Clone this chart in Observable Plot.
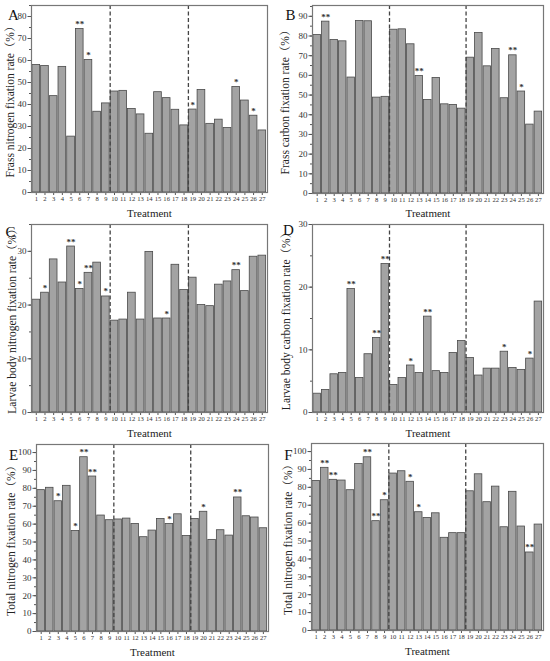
<!DOCTYPE html>
<html>
<head>
<meta charset="utf-8">
<script src="https://cdn.jsdelivr.net/npm/d3@7"></script>
<script src="https://cdn.jsdelivr.net/npm/@observablehq/plot@0.6"></script>
<style>
  html, body { margin: 0; padding: 0; background: #fff; }
  #wrap { position: relative; width: 550px; height: 661px; overflow: hidden; }
  .panel { position: absolute; }
</style>
</head>
<body>
<div id="wrap"></div>
<script>
const treatments = [1,2,3,4,5,6,7,8,9,10,11,12,13,14,15,16,17,18,19,20,21,22,23,24,25,26,27];
const dividers = [9.5, 18.5];

const frassN = [58.0,57.5,43.8,57.1,25.4,74.3,60.2,36.7,40.5,45.9,46.2,38.0,35.5,26.7,45.6,42.9,37.6,30.5,37.7,46.6,31.2,33.1,29.3,48.0,41.8,34.9,28.2];
const frassNStars = {6:"**",7:"*",19:"*",24:"*",26:"*"};

const frassC = [80.5,87.3,78.0,77.3,58.9,87.6,87.5,48.7,49.1,83.2,83.4,75.8,59.7,47.5,58.7,45.3,45.0,43.1,69.0,81.5,64.6,73.4,48.4,70.2,51.8,35.0,41.6];
const frassCStars = {2:"**",13:"**",24:"**",25:"*"};

const larvaeN = [21.0,22.3,28.5,24.2,30.9,23.0,26.0,27.9,21.6,17.1,17.3,22.3,17.3,29.9,17.5,17.5,27.5,22.8,25.1,20.0,19.8,23.8,24.4,26.5,22.6,29.0,29.2];
const larvaeNStars = {2:"*",5:"**",6:"*",7:"**",9:"*",16:"*",24:"**"};

const larvaeC = [3.0,3.6,6.1,6.3,19.7,5.5,9.3,11.9,23.7,4.4,5.5,7.5,6.3,15.3,6.6,6.3,9.5,11.4,8.7,5.9,7.0,7.0,9.7,7.1,6.8,8.6,17.7];
const larvaeCStars = {5:"**",8:"**",9:"**",12:"*",14:"**",23:"*",26:"*"};

const totalN = [79.0,80.3,72.8,81.4,56.2,97.4,86.6,64.8,62.2,62.6,63.1,60.1,52.7,56.4,62.9,60.1,65.5,53.4,62.9,66.9,51.2,56.6,53.6,74.9,64.4,63.7,57.7];
const totalNStars = {3:"*",5:"*",6:"**",7:"**",16:"*",20:"*",24:"**"};

const totalF = [83.6,90.9,84.2,83.8,78.4,93.1,96.8,61.1,72.8,87.7,89.0,83.1,66.1,62.9,65.5,51.8,54.4,54.4,77.8,87.3,71.7,80.4,57.7,77.5,58.1,43.6,59.2];
const totalFStars = {2:"**",3:"**",7:"**",8:"**",9:"*",12:"*",13:"*",26:"**"};

const ticks0to80 = [0,10,20,30,40,50,60,70,80];
const ticks0to90 = [0,10,20,30,40,50,60,70,80,90];
const ticks0to30 = [0,10,20,30];
const ticks0to100 = [0,10,20,30,40,50,60,70,80,90,100];

const panels = [
  {letter:"A", values:frassN, stars:frassNStars, ylabel:"Frass nitrogen fixation rate（%）", ymax:85, ticks:ticks0to80, minorStep:5,
   left:0, top:0, w:275, h:220, ml:31, mr:8, mt:5, mb:28, tOff:21, yOff:21, lx:-18, ly:10},
  {letter:"B", values:frassC, stars:frassCStars, ylabel:"Frass carbon fixation rate（%）", ymax:95.5, ticks:ticks0to90, minorStep:5,
   left:275, top:0, w:275, h:220, ml:37, mr:7, mt:5, mb:27, tOff:20, yOff:27, lx:-22, ly:10},
  {letter:"C", values:larvaeN, stars:larvaeNStars, ylabel:"Larvae body nitrogen fixation rate（%）", ymax:35, ticks:ticks0to30, minorStep:5,
   left:0, top:220, w:275, h:220, ml:31, mr:8, mt:4, mb:28, tOff:21, yOff:19, lx:-21, ly:8},
  {letter:"D", values:larvaeC, stars:larvaeCStars, ylabel:"Larvae body carbon fixation rate（%）", ymax:30, ticks:ticks0to30, minorStep:5,
   left:275, top:220, w:275, h:220, ml:37, mr:7, mt:4, mb:28, tOff:21, yOff:26, lx:-24, ly:6},
  {letter:"E", values:totalN, stars:totalNStars, ylabel:"Total nitrogen fixation rate（%）", ymax:104.5, ticks:ticks0to100, minorStep:5,
   left:0, top:440, w:275, h:221, ml:36, mr:7, mt:4, mb:30, tOff:21, yOff:25, lx:-23, ly:11},
  {letter:"F", values:totalF, stars:totalFStars, ylabel:"Total nitrogen fixation rate（%）", ymax:104.5, ticks:ticks0to100, minorStep:5,
   left:275, top:440, w:275, h:221, ml:36, mr:7, mt:3, mb:31, tOff:21, yOff:23, lx:-23, ly:12}
];

const wrap = document.getElementById("wrap");
const ink = "#222";
const serif = "'Liberation Serif', 'Noto Serif CJK SC', 'Noto Sans CJK SC', serif";

for (const p of panels) {
  const data = treatments.map((t, i) => ({t, v: p.values[i], s: p.stars[t] || ""}));
  const minor = [];
  for (let v = 0; v <= p.ymax; v += p.minorStep) minor.push(v);
  const chart = Plot.plot({
    width: p.w, height: p.h,
    marginLeft: p.ml, marginRight: p.mr, marginTop: p.mt, marginBottom: p.mb,
    style: {fontFamily: serif, color: ink, background: "transparent"},
    x: {domain: [0.45, 27.6], axis: null},
    y: {domain: [0, p.ymax], axis: null},
    marks: [
      Plot.rectY(data, {x1: d => d.t - 0.5, x2: d => d.t + 0.5, y: "v",
        fill: "#a3a3a3", stroke: "#4a4a4a", strokeWidth: 0.8, insetLeft: 0.5, insetRight: 0.5}),
      Plot.ruleX(dividers, {stroke: "#444", strokeWidth: 1.3, strokeDasharray: "4,2.5"}),
      Plot.text(data.filter(d => d.s), {x: "t", y: "v", text: "s", dy: -2, lineAnchor: "bottom",
        fontSize: 9, fontWeight: "bold", fill: "#333"}),
      Plot.axisY({ticks: minor, tickSize: 2, text: null, label: null, stroke: "#555"}),
      Plot.axisY({ticks: p.ticks, tickSize: 3.5, tickPadding: 1.5, fontSize: 9, label: null, stroke: "#555", fill: "#333"}),
      Plot.axisX({ticks: treatments, tickSize: 3, tickPadding: 1, fontSize: 6.6, label: null, tickFormat: d => String(d), stroke: "#555", fill: "#333"}),
      Plot.frame({stroke: "#777", strokeWidth: 1.2}),
      Plot.text([p.ylabel], {frameAnchor: "left", textAnchor: "middle", lineAnchor: "middle", rotate: -90, dx: -p.yOff, fontSize: 11.5, fill: ink}),
      Plot.text(["Treatment"], {frameAnchor: "bottom", textAnchor: "middle", lineAnchor: "middle", dy: p.tOff, fontSize: 11, fill: ink}),
      Plot.text([p.letter], {frameAnchor: "top-left", textAnchor: "middle", lineAnchor: "middle", dx: p.lx, dy: p.ly, fontSize: 15, fill: "#111"})
    ]
  });
  const div = document.createElement("div");
  div.className = "panel";
  div.style.left = p.left + "px";
  div.style.top = p.top + "px";
  div.appendChild(chart);
  wrap.appendChild(div);
}
</script>
</body>
</html>
